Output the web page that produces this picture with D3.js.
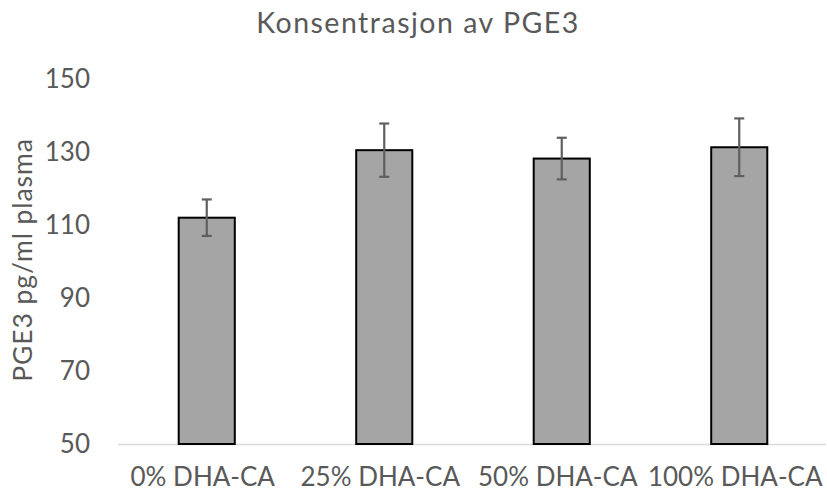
<!DOCTYPE html>
<html><head><meta charset="utf-8">
<script src="https://cdn.jsdelivr.net/npm/d3@7"></script>
<style>body{margin:0;background:#fff}svg{display:block}text{font-family:Lato,"Open Sans",sans-serif;fill:#595959}</style>
</head><body><svg id="c" width="827" height="493"></svg>
<script>
const categories = ["0% DHA-CA","25% DHA-CA","50% DHA-CA","100% DHA-CA"];
const values = [112, 130.5, 128.2, 131.3];
const errors = [5, 7.3, 5.7, 7.9];
const yTicks = [50,70,90,110,130,150];
const title = "Konsentrasjon av PGE3";
const yLabel = "PGE3 pg/ml plasma";

const svg = d3.select("#c");
const x = d3.scaleBand().domain(categories).range([118,828]).paddingInner(0.684).paddingOuter(0.342);
const y = d3.scaleLinear().domain([50,150]).range([444,79]);

// y tick labels
svg.append("g").selectAll("text").data(yTicks).join("text")
  .attr("x",90).attr("y",d=>y(d)).attr("dy","0.36em").attr("text-anchor","end")
  .style("font-size","26px").text(d=>d);

// x axis line
svg.append("line").attr("x1",118).attr("x2",826).attr("y1",444.5).attr("y2",444.5)
  .attr("stroke","#d9d9d9").attr("stroke-width",1.5);

// bars
svg.append("g").selectAll("rect").data(categories).join("rect")
  .attr("x",d=>x(d)).attr("width",x.bandwidth())
  .attr("y",(d,i)=>y(values[i])).attr("height",(d,i)=>y(50)-y(values[i]))
  .attr("fill","#a5a5a5").attr("stroke","#000").attr("stroke-width",2);

// error bars
const eg = svg.append("g").attr("stroke","#5f5f5f").attr("stroke-width",2.2);
categories.forEach((c,i)=>{
  const cx = x(c)+x.bandwidth()/2;
  const t = y(values[i]+errors[i]), b = y(values[i]-errors[i]);
  eg.append("line").attr("x1",cx).attr("x2",cx).attr("y1",t).attr("y2",b);
  eg.append("line").attr("x1",cx-5).attr("x2",cx+5).attr("y1",t).attr("y2",t);
  eg.append("line").attr("x1",cx-5).attr("x2",cx+5).attr("y1",b).attr("y2",b);
});

// x labels
svg.append("g").selectAll("text").data(categories).join("text")
  .attr("x",d=>x(d)+x.bandwidth()/2-4).attr("y",486).attr("text-anchor","middle")
  .style("font-size","26px").text(d=>d);

// title
svg.append("text").attr("x",418).attr("y",33).attr("text-anchor","middle")
  .style("font-size","28.5px").style("letter-spacing","1.5px").text(title);

// y label
svg.append("text").attr("transform","translate(32,260) rotate(-90)").attr("text-anchor","middle")
  .style("font-size","26.5px").style("letter-spacing","0.9px").text(yLabel);
</script></body></html>
